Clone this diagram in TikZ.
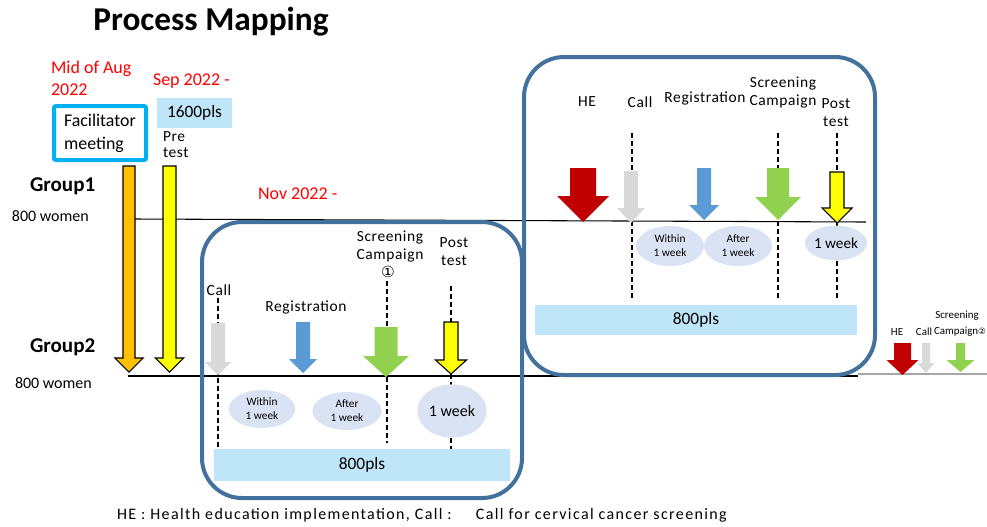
\documentclass[tikz,border=0pt]{standalone}
\usepackage{fontspec}
\setmainfont{Carlito}
\newfontfamily\symfont{DejaVu Sans}
\newfontfamily\spaced[LetterSpace=4]{Carlito}
\newfontfamily\footfont[LetterSpace=8.5]{Carlito}
\usetikzlibrary{shapes.geometric}
\definecolor{orng}{HTML}{FFC000}
\definecolor{yllw}{HTML}{FFFF00}
\definecolor{gry}{HTML}{D9D9D9}
\definecolor{blu}{HTML}{5B9BD5}
\definecolor{grn}{HTML}{92D050}
\definecolor{rd}{HTML}{C00000}
\definecolor{boxblue}{HTML}{41719C}
\definecolor{lightbar}{RGB}{190,230,248}
\definecolor{ellfill}{RGB}{218,227,243}
\definecolor{cyanb}{HTML}{00B0F0}
\definecolor{redtxt}{HTML}{FF0000}
\newcommand\dnarrow[7]{% style, cx, shaft hw, head hw, top, head base, tip
  \path[#1] ({#2-#3},#5) -- ({#2+#3},#5) -- ({#2+#3},#6) -- ({#2+#4},#6) -- (#2,#7) -- ({#2-#4},#6) -- ({#2-#3},#6) -- cycle;}
\begin{document}
\begin{tikzpicture}[x=0.75pt,y=-0.75pt,
  every node/.style={inner sep=0pt,outer sep=0pt},
  lbl/.style={font=\spaced\fontsize{11.6}{13}\selectfont,align=center},
  smlbl/.style={font=\fontsize{8.2}{11}\selectfont,align=center},
  redlbl/.style={font=\fontsize{13.5}{16.5}\selectfont,text=redtxt,align=left,anchor=west},
  grp/.style={font=\bfseries\fontsize{15.8}{18}\selectfont,anchor=west},
  women/.style={font=\fontsize{12}{14}\selectfont,anchor=west},
  wk/.style={ellipse,fill=ellfill,align=center,font=\fontsize{8.5}{10.5}\selectfont},
  wkbig/.style={ellipse,fill=ellfill,font=\fontsize{12}{14}\selectfont},
  bar/.style={rectangle,fill=lightbar,font=\fontsize{13}{15}\selectfont},
  dline/.style={draw=black,line width=1.1pt,dash pattern=on 3.75pt off 2.25pt},
  gline/.style={draw=black,line width=0.8pt},
  rbox/.style={draw=boxblue,line width=3pt,rounded corners=30pt},
  outl/.style={draw=black,line width=0.8pt}]
\useasboundingbox (0,0) rectangle (987,526);

% title
\node (title) at (211,22) {\bfseries\fontsize{25}{28}\selectfont Process Mapping};

% top-left labels
\node[redlbl] (aug) at (51,78) {Mid of Aug\\2022};
\node[redlbl] (sep) at (153,81) {Sep 2022 -};
\node[redlbl] (nov) at (258,194) {Nov 2022 -};
\node[draw=cyanb,line width=3pt,rounded corners=1.5pt,minimum width=69pt,minimum height=40.5pt,
      align=left,font=\fontsize{13.4}{17}\selectfont] (fac) at (100,133) {Facilitator\\meeting};
\node[bar,minimum width=56pt,minimum height=22.5pt] (pls1600) at (194.5,113) {1600pls};
\node[lbl,align=left,anchor=west,font=\spaced\fontsize{11.6}{12}\selectfont] (pre) at (163,145) {Pre\\test};

% groups
\node[grp] (group1) at (30,186) {Group1};
\node[women] (w1) at (12,216) {800 women};
\node[grp] (group2) at (30,347) {Group2};
\node[women] (w2) at (15,383) {800 women};

% timeline lines
\coordinate (g1s) at (135,219); \coordinate (g1e) at (866,222);
\coordinate (g2s) at (128,376); \coordinate (g2e) at (858,376);
\coordinate (g3s) at (858,374); \coordinate (g3e) at (987,374);
\draw[gline] (g1s) -- (g1e);
\draw[gline] (g2s) -- (g2e);
\draw[draw=gray!70,line width=0.9pt] (g3s) -- (g3e);

% rounded boxes
\draw[rbox] (202,222) rectangle (522,498);
\draw[rbox] (524,57) rectangle (875,375);

% long arrows
\dnarrow{fill=orng,outl}{129}{6}{14}{166}{358}{372}
\dnarrow{fill=yllw,outl}{169.5}{6.5}{14}{166}{358}{372}

% ---- left box (Group2) ----
\coordinate (lc1) at (218,298); \coordinate (lc2) at (218,465);
\coordinate (ls1) at (387,281); \coordinate (ls2) at (387,443);
\coordinate (lp1) at (451,286); \coordinate (lp2) at (451,450);
\draw[dline] (lc1) -- (lc2);
\draw[dline] (ls1) -- (ls2);
\draw[dline] (lp1) -- (lp2);
\node[lbl] (lcall) at (219,290) {Call};
\node[lbl] (lreg) at (306,307) {Registration};
\node[lbl] (lscr) at (390,246.5) {Screening\\Campaign};
\node (lcirc) at (388,272) {\symfont\fontsize{11.5}{13}\selectfont ①};
\node[lbl,font=\spaced\fontsize{11.6}{13.5}\selectfont] (lpost) at (454,252) {Post\\test};
\dnarrow{fill=gry}{218}{7}{13}{323}{362}{375}
\dnarrow{fill=blu}{303}{7}{14}{322}{359}{373}
\dnarrow{fill=grn}{386}{11.5}{23}{327}{356}{377}
\dnarrow{fill=yllw,outl}{451}{7}{15.5}{322}{360}{374}
\node[wk,minimum width=50pt,minimum height=28.5pt] (lw1) at (262,409) {Within\\1 week};
\node[wk,minimum width=52pt,minimum height=28.5pt] (lw2) at (347,411) {After\\1 week};
\node[wkbig,minimum width=52pt,minimum height=40pt] (lw3) at (452,411) {1 week};
\node[bar,minimum width=222pt,minimum height=24pt] (pls800a) at (362,465) {800pls};

% ---- right box (Group1) ----
\coordinate (rc1) at (632,133); \coordinate (rc2) at (632,298);
\coordinate (rs1) at (778,133); \coordinate (rs2) at (778,298);
\coordinate (rp1) at (837,133); \coordinate (rp2) at (837,298);
\draw[dline] (rc1) -- (rc2);
\draw[dline] (rs1) -- (rs2);
\draw[dline] (rp1) -- (rp2);
\node[lbl] (rhe) at (587,102) {HE};
\node[lbl] (rcall) at (640,102) {Call};
\node[lbl] (rreg) at (705,98) {Registration};
\node[lbl,font=\spaced\fontsize{11.6}{14}\selectfont] (rscr) at (783,92.5) {Screening\\Campaign};
\node[lbl] (rpost) at (836,112.5) {Post\\test};
\dnarrow{fill=rd}{583}{13}{26}{168}{196}{222}
\dnarrow{fill=gry}{631}{7}{14}{171}{208}{223}
\dnarrow{fill=blu}{704}{7}{15}{168}{205}{220}
\dnarrow{fill=grn}{778}{11}{23}{168}{197}{220}
\dnarrow{fill=yllw,outl}{837}{7}{15}{172}{208}{223}
\node[wk,minimum width=51pt,minimum height=30pt] (rw1) at (670,246) {Within\\1 week};
\node[wk,minimum width=51pt,minimum height=30pt] (rw2) at (738,246) {After\\1 week};
\node[wkbig,minimum width=43.5pt,minimum height=26pt,font=\fontsize{11.4}{13}\selectfont] (rw3) at (836,243) {1 week};
\node[bar,minimum width=241.5pt,minimum height=22.5pt] (pls800b) at (696,320) {800pls};

% ---- far right ----
\node[smlbl] (fhe) at (897,332) {HE};
\node[smlbl] (fcall) at (924,332) {Call};
\node[smlbl] (fscr) at (957,316) {Screening};
\node[smlbl,anchor=west] (fcamp) at (934,332) {Campaign{\symfont\fontsize{6.5}{8}\selectfont ②}};
\dnarrow{fill=rd}{902.5}{8.5}{16}{343}{360}{375}
\dnarrow{fill=gry}{926}{4}{8.5}{343}{363}{373}
\dnarrow{fill=grn}{960.5}{4.5}{14}{343}{360}{372}

% footnote
\node[anchor=west,font=\footfont\fontsize{12}{14}\selectfont] (foot) at (117,515)
  {HE : Health education implementation, Call :\hspace{1.1em} Call for cervical cancer screening};
\end{tikzpicture}
\end{document}
